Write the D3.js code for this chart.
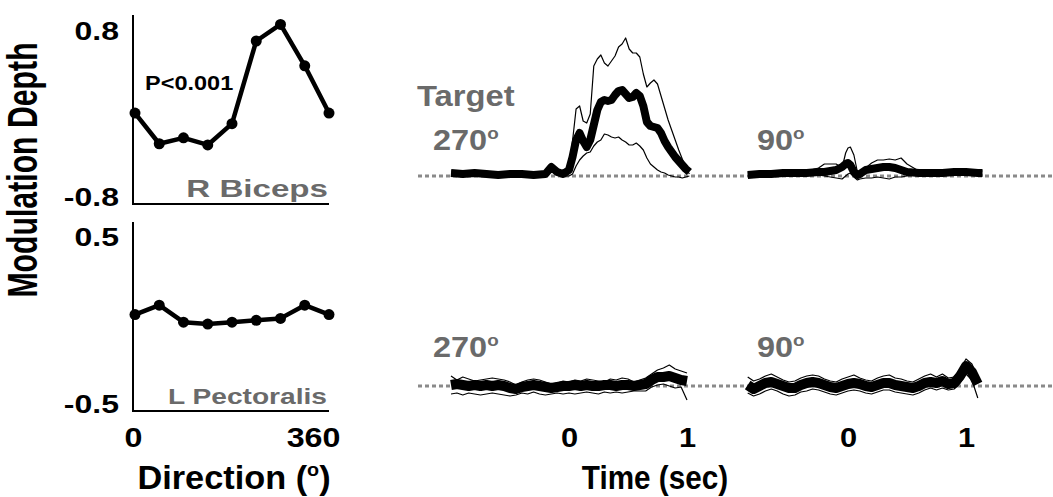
<!DOCTYPE html>
<html>
<head>
<meta charset="utf-8">
<script src="https://cdn.jsdelivr.net/npm/d3@7"></script>
<style>
  body { margin: 0; background: #fff; }
  svg { display: block; }
  text { font-family: "Liberation Sans", Arial, sans-serif; font-weight: bold; }
</style>
</head>
<body>
<svg id="chart" width="1053" height="497"></svg>
<script>
// ---- Tuning curves: modulation depth vs. target direction (deg) ----
const directions = [0, 45, 90, 135, 180, 225, 270, 315, 360];
const bicepsDepth = [-0.03, -0.29, -0.24, -0.30, -0.12, 0.58, 0.72, 0.37, -0.03];
const pectoralisDepth = [0.01, 0.06, -0.03, -0.04, -0.03, -0.02, -0.01, 0.06, 0.01];
const bicepsTicks = [-0.8, 0.8];
const pectoralisTicks = [-0.5, 0.5];
const directionTicks = [0, 360];

// ---- Averaged EMG traces (mean with upper/lower bounds), time in seconds ----
const timeTopLeft = [-1.0, -0.9, -0.8, -0.7, -0.6, -0.5, -0.4, -0.3, -0.2, -0.15, -0.1, -0.05,
  0, 0.03, 0.06, 0.09, 0.12, 0.15, 0.18, 0.21, 0.24, 0.27, 0.3, 0.33, 0.36, 0.39, 0.42, 0.45,
  0.48, 0.51, 0.54, 0.57, 0.6, 0.63, 0.66, 0.69, 0.72, 0.75, 0.78, 0.81, 0.84, 0.87, 0.9, 0.93,
  0.96, 0.99, 1.02];
const bicepsMean270 = [0.03, 0.02, 0.03, 0.02, 0.01, 0.02, 0.02, 0.01, 0.02, 0.09, 0.04, 0.02,
  0.06, 0.19, 0.36, 0.43, 0.35, 0.29, 0.36, 0.51, 0.66, 0.74, 0.76, 0.75, 0.76, 0.81, 0.85, 0.86,
  0.82, 0.78, 0.79, 0.83, 0.80, 0.70, 0.54, 0.50, 0.49, 0.48, 0.43, 0.35, 0.29, 0.24, 0.19, 0.15,
  0.11, 0.07, 0.04];
const bicepsUpper270 = [0.05, 0.04, 0.05, 0.04, 0.03, 0.04, 0.04, 0.03, 0.04, 0.11, 0.05, 0.03,
  0.06, 0.35, 0.67, 0.70, 0.55, 0.53, 0.62, 1.10, 1.17, 1.21, 1.13, 1.10, 1.15, 1.20, 1.29, 1.32,
  1.38, 1.27, 1.23, 1.23, 1.19, 1.02, 0.89, 0.93, 0.96, 0.92, 0.80, 0.68, 0.56, 0.46, 0.36, 0.26,
  0.17, 0.08, 0.02];
const bicepsLower270 = [0.01, 0.00, 0.01, 0.00, -0.01, 0.00, 0.01, 0.00, 0.00, 0.05, 0.01, 0.00,
  0.00, 0.02, 0.10, 0.16, 0.20, 0.23, 0.24, 0.30, 0.34, 0.36, 0.42, 0.41, 0.39, 0.38, 0.39, 0.36,
  0.34, 0.31, 0.31, 0.33, 0.30, 0.26, 0.18, 0.12, 0.09, 0.06, 0.04, 0.03, 0.01, 0.00, -0.01, -0.01,
  -0.02, -0.01, 0.00];

const timeTopRight = [-0.85, -0.75, -0.65, -0.55, -0.45, -0.35, -0.25, -0.2, -0.15, -0.1, -0.05, -0.02,
  0, 0.02, 0.05, 0.08, 0.1, 0.15, 0.2, 0.25, 0.3, 0.35, 0.4, 0.45, 0.5, 0.6, 0.7, 0.8, 0.9, 1.0, 1.1, 1.14];
const bicepsMean90 = [0.01, 0.02, 0.02, 0.03, 0.03, 0.03, 0.04, 0.04, 0.05, 0.06, 0.09, 0.12,
  0.13, 0.11, 0.04, 0.01, 0.02, 0.06, 0.07, 0.08, 0.09, 0.09, 0.08, 0.06, 0.04, 0.03, 0.03, 0.03,
  0.04, 0.04, 0.03, 0.03];
const bicepsUpper90 = [0.03, 0.04, 0.04, 0.05, 0.05, 0.05, 0.08, 0.12, 0.12, 0.12, 0.08, 0.23,
  0.28, 0.29, 0.21, 0.04, 0.03, 0.08, 0.13, 0.16, 0.16, 0.17, 0.16, 0.18, 0.12, 0.05, 0.05, 0.05,
  0.05, 0.06, 0.05, 0.05];
const bicepsLower90 = [0.00, 0.00, 0.01, 0.01, 0.01, 0.01, 0.01, 0.00, -0.01, -0.02, -0.03, 0.00,
  0.02, 0.03, -0.01, -0.04, -0.03, -0.02, -0.02, -0.01, -0.02, -0.03, -0.01, -0.01, 0.00, 0.01,
  0.01, 0.02, 0.01, 0.02, 0.01, 0.01];

const timeBottomLeft = [-1.0, -0.95, -0.9, -0.85, -0.8, -0.75, -0.7, -0.65, -0.6, -0.55, -0.5, -0.45,
  -0.4, -0.35, -0.3, -0.25, -0.2, -0.15, -0.1, -0.05, 0, 0.05, 0.1, 0.15, 0.2, 0.25, 0.3, 0.35, 0.4,
  0.45, 0.5, 0.55, 0.6, 0.65, 0.7, 0.75, 0.8, 0.85, 0.9, 0.95, 1.0];
const pectMean270 = [0.01, 0.02, 0.01, 0.00, 0.01, 0.00, 0.01, 0.00, 0.01, 0.00, -0.02, -0.03,
  -0.01, 0.00, 0.01, 0.00, -0.01, -0.02, -0.01, 0.00, 0.00, 0.01, 0.00, 0.01, 0.00, 0.00, 0.01, 0.01,
  0.00, 0.01, 0.01, 0.00, 0.01, 0.02, 0.06, 0.09, 0.09, 0.10, 0.08, 0.06, 0.05];
const pectUpper270 = [0.10, 0.06, 0.09, 0.07, 0.05, 0.06, 0.07, 0.08, 0.07, 0.06, 0.04, 0.01,
  0.04, 0.06, 0.07, 0.06, 0.04, 0.02, 0.03, 0.05, 0.04, 0.06, 0.05, 0.07, 0.06, 0.05, 0.04, 0.07,
  0.06, 0.08, 0.07, 0.04, 0.06, 0.08, 0.12, 0.16, 0.18, 0.21, 0.17, 0.15, 0.13];
const pectLower270 = [-0.08, -0.07, -0.09, -0.07, -0.08, -0.09, -0.08, -0.07, -0.08, -0.09, -0.10, -0.09,
  -0.07, -0.08, -0.06, -0.08, -0.09, -0.08, -0.07, -0.08, -0.07, -0.08, -0.07, -0.06, -0.07, -0.08,
  -0.06, -0.07, -0.06, -0.07, -0.06, -0.05, -0.05, -0.05, -0.01, 0.01, 0.02, 0.00, -0.02, -0.01, -0.14];

const timeBottomRight = [-0.85, -0.8, -0.75, -0.7, -0.65, -0.6, -0.55, -0.5, -0.45, -0.4, -0.35, -0.3,
  -0.25, -0.2, -0.15, -0.1, -0.05, 0, 0.05, 0.1, 0.15, 0.2, 0.25, 0.3, 0.35, 0.4, 0.45, 0.5, 0.55,
  0.6, 0.65, 0.7, 0.75, 0.8, 0.85, 0.9, 0.95, 1.0, 1.05, 1.1];
const pectMean90 = [0.01, -0.03, 0.00, 0.03, 0.04, 0.02, 0.00, -0.02, -0.02, 0.01, 0.03, 0.04,
  0.03, 0.01, -0.01, -0.02, 0.00, 0.02, 0.03, 0.02, 0.00, -0.01, 0.01, 0.03, 0.03, 0.01, 0.00, -0.01,
  -0.02, 0.00, 0.03, 0.04, 0.03, 0.05, 0.02, 0.03, 0.10, 0.20, 0.14, 0.02];
const pectUpper90 = [0.09, 0.05, 0.07, 0.10, 0.12, 0.09, 0.06, 0.04, 0.05, 0.08, 0.10, 0.11,
  0.10, 0.07, 0.05, 0.04, 0.07, 0.09, 0.11, 0.08, 0.06, 0.05, 0.08, 0.10, 0.11, 0.08, 0.07, 0.05,
  0.04, 0.07, 0.10, 0.12, 0.09, 0.12, 0.08, 0.09, 0.17, 0.27, 0.22, 0.09];
const pectLower90 = [-0.07, -0.10, -0.08, -0.05, -0.03, -0.05, -0.08, -0.10, -0.09, -0.06, -0.05, -0.03,
  -0.04, -0.06, -0.08, -0.09, -0.07, -0.05, -0.04, -0.05, -0.07, -0.08, -0.06, -0.04, -0.04, -0.06,
  -0.07, -0.08, -0.09, -0.07, -0.04, -0.02, -0.04, -0.02, -0.04, -0.03, 0.03, 0.12, 0.06, -0.12];
const timeTicks = [0, 1];

const GRAY = "#6a6a6a";
const svg = d3.select("#chart");
const plainFormat = d => String(d);   // keeps an ASCII hyphen for negatives

// Text helper: horizontally stretched bold label
function label(txt, x, y, size, sx, anchor, color) {
  return svg.append("text")
    .attr("transform", `translate(${x},${y}) scale(${sx},1)`)
    .attr("text-anchor", anchor || "start")
    .attr("font-size", size)
    .attr("fill", color || "#000")
    .text(txt);
}
function degreeLabel(num, x, y, size, sx, color) {
  const t = svg.append("text")
    .attr("transform", `translate(${x},${y}) scale(${sx},1)`)
    .attr("font-size", size)
    .attr("fill", color);
  t.append("tspan").text(num);
  t.append("tspan").attr("font-size", size * 0.58).attr("dy", -size * 0.38).text("o");
  return t;
}

// ---------- Left: tuning curves ----------
const xDir = d3.scaleLinear().domain([0, 360]).range([135, 329]);

function tuningPanel(values, yDomain, yRange, ticks, topDy) {
  const y = d3.scaleLinear().domain(yDomain).range(yRange);
  const g = svg.append("g");
  g.append("path")
    .attr("d", `M133,${yRange[1]}V${yRange[0]}H329`)
    .attr("fill", "none").attr("stroke", "#000").attr("stroke-width", 2);
  const ax = g.append("g").attr("transform", "translate(133,0)")
    .call(d3.axisLeft(y).tickValues(ticks).tickSize(0).tickPadding(0).tickFormat(plainFormat));
  ax.select(".domain").remove();
  ax.selectAll("text")
    .attr("font-size", 25).attr("fill", "#000").attr("font-family", null)
    .attr("x", 0).attr("dy", null)
    .attr("transform", d => `translate(-14,${d > 0 ? topDy : 1}) scale(1.28,1)`);

  const line = d3.line().x((d, i) => xDir(directions[i])).y(d => y(d));
  g.append("path").datum(values).attr("d", line)
    .attr("fill", "none").attr("stroke", "#000").attr("stroke-width", 4.5).attr("stroke-linejoin", "round");
  g.selectAll("circle").data(values).join("circle")
    .attr("cx", (d, i) => xDir(directions[i])).attr("cy", d => y(d)).attr("r", 5.5).attr("fill", "#000");
  return y;
}
tuningPanel(bicepsDepth, [-0.8, 0.8], [204, 15], bicepsTicks, 24);
tuningPanel(pectoralisDepth, [-0.5, 0.5], [411, 222], pectoralisTicks, 23);

label("P<0.001", 145, 90, 21, 1.12, "start", "#000");
label("R Biceps", 328, 197, 24, 1.38, "end", GRAY);
label("L Pectoralis", 327, 404, 22, 1.28, "end", GRAY);

const dirAxis = svg.append("g").attr("transform", "translate(0,447)")
  .call(d3.axisBottom(xDir).tickValues(directionTicks).tickSize(0).tickPadding(0).tickFormat(plainFormat));
dirAxis.select(".domain").remove();
dirAxis.selectAll("text").attr("font-size", 28).attr("fill", "#000").attr("font-family", null)
  .attr("y", 0).attr("dy", null)
  .attr("transform", d => `translate(${d === 0 ? -2 : -16},0) scale(1.15,1)`);

// Direction (°)
(function () {
  const t = svg.append("text").attr("transform", "translate(234,489) scale(1.04,1)")
    .attr("text-anchor", "middle").attr("font-size", 33).attr("fill", "#000");
  t.append("tspan").text("Direction (");
  t.append("tspan").attr("font-size", 19).attr("dy", -13).text("o");
  t.append("tspan").attr("dy", 13).text(")");
})();

// rotated y title, compressed along its length
svg.append("text")
  .attr("transform", "translate(37,170) scale(1,0.72) rotate(-90)")
  .attr("text-anchor", "middle").attr("font-size", 42).attr("fill", "#000")
  .text("Modulation Depth");

// ---------- Right: EMG traces ----------
const yTop = d3.scaleLinear().domain([0, 1]).range([176, 76]);
const yBottom = d3.scaleLinear().domain([0, 1]).range([386, 286]);
const xLeftPanel = d3.scaleLinear().domain([0, 1]).range([569, 687]);
const xRightPanel = d3.scaleLinear().domain([0, 1]).range([848, 966]);

// dotted zero lines
[yTop, yBottom].forEach(y => {
  svg.append("line").attr("x1", 418).attr("x2", 1053).attr("y1", y(0)).attr("y2", y(0))
    .attr("stroke", "#8a8a8a").attr("stroke-width", 3).attr("stroke-dasharray", "4,3");
});

function tracePanel(x, y, times, mean, upper, lower, meanWidth) {
  const line = d3.line().x((d, i) => x(times[i])).y(d => y(d));
  const g = svg.append("g");
  [upper, lower].forEach(s => g.append("path").datum(s).attr("d", line)
    .attr("fill", "none").attr("stroke", "#000").attr("stroke-width", 1.2).attr("stroke-linejoin", "round"));
  g.append("path").datum(mean).attr("d", line)
    .attr("fill", "none").attr("stroke", "#000").attr("stroke-width", meanWidth)
    .attr("stroke-linejoin", "round").attr("stroke-linecap", "butt");
}
tracePanel(xLeftPanel, yTop, timeTopLeft, bicepsMean270, bicepsUpper270, bicepsLower270, 8);
tracePanel(xRightPanel, yTop, timeTopRight, bicepsMean90, bicepsUpper90, bicepsLower90, 8);
tracePanel(xLeftPanel, yBottom, timeBottomLeft, pectMean270, pectUpper270, pectLower270, 10);
tracePanel(xRightPanel, yBottom, timeBottomRight, pectMean90, pectUpper90, pectLower90, 10);

label("Target", 417, 106, 29, 1.13, "start", GRAY);
degreeLabel("270", 433, 150, 29, 1.12, GRAY);
degreeLabel("90", 757, 150, 29, 1.12, GRAY);
degreeLabel("270", 433, 357, 29, 1.12, GRAY);
degreeLabel("90", 757, 357, 29, 1.12, GRAY);

[xLeftPanel, xRightPanel].forEach(x => {
  const ax = svg.append("g").attr("transform", "translate(0,447)")
    .call(d3.axisBottom(x).tickValues(timeTicks).tickSize(0).tickPadding(0).tickFormat(plainFormat));
  ax.select(".domain").remove();
  ax.selectAll("text").attr("font-size", 28).attr("fill", "#000").attr("font-family", null)
    .attr("y", 0).attr("dy", null).attr("transform", "scale(1.1,1)");
});

label("Time (sec)", 655, 489, 33, 0.9, "middle", "#000");
</script>
</body>
</html>
